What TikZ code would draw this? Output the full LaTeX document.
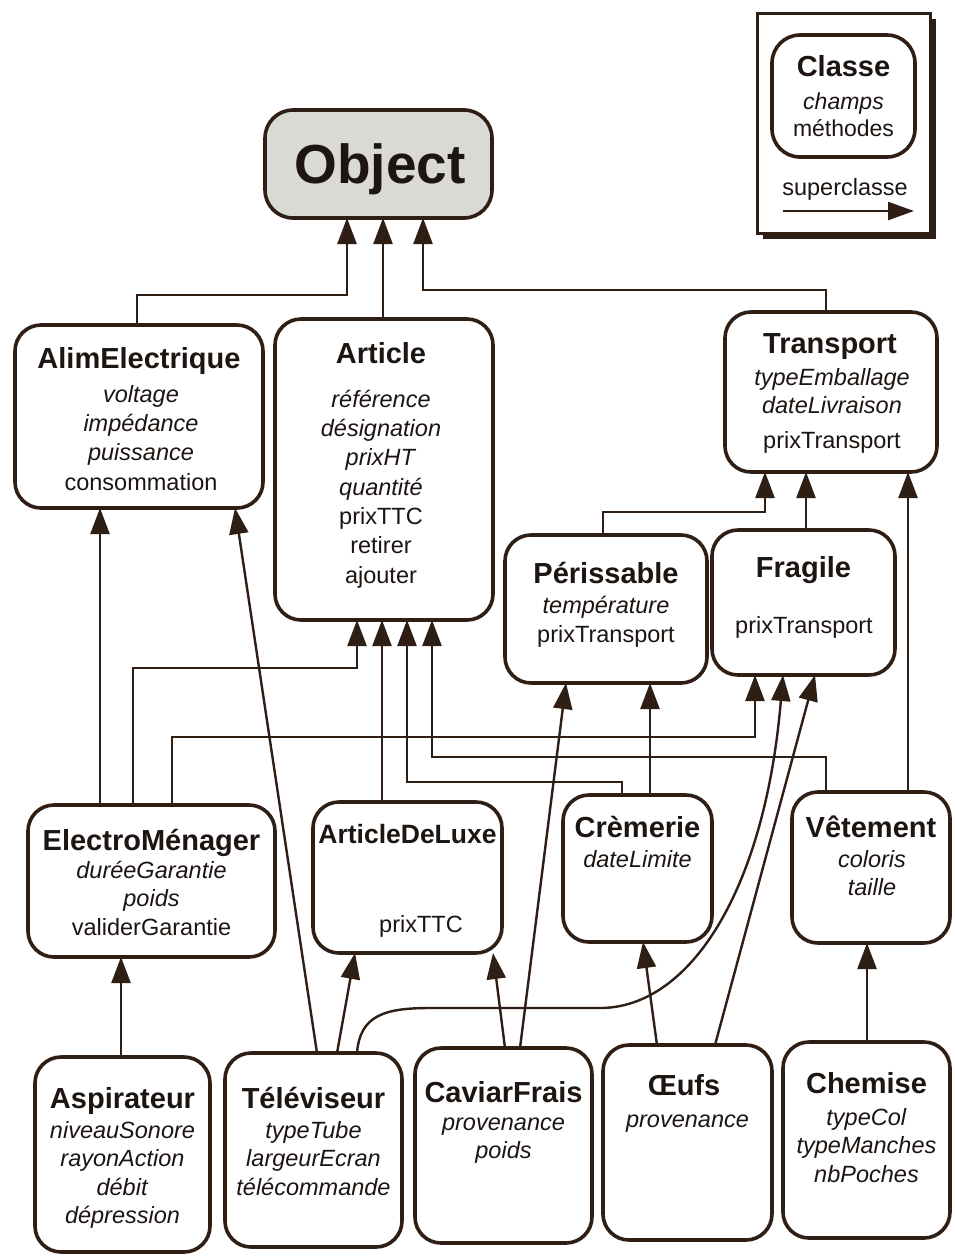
\documentclass[tikz,border=0pt]{standalone}
\usepackage{fontspec}
\setmainfont{Liberation Sans}
\usetikzlibrary{arrows.meta}
\definecolor{ink}{HTML}{2E1E14}
\definecolor{txt}{HTML}{1C1511}
\definecolor{objfill}{HTML}{D9D9D6}

\begin{document}
\begin{tikzpicture}[x=1pt,y=-1pt,
  cls/.style={draw=ink, line width=3.6pt, rounded corners=26pt, fill=white, inner sep=0pt, outer sep=0pt},
  ttl/.style={anchor=base, text=txt, inner sep=0pt, font={\fontsize{29}{33}\selectfont\bfseries}},
  % multi-line member lists are placed by the baseline of their last line
  mem/.style={anchor=base, align=center, text=txt, inner sep=0pt, font={\fontsize{23.5}{29.3}\selectfont}},
  inh/.style={draw=ink, line width=2.4pt, -{Triangle[length=26pt,width=19pt]}}
]
\fill[white] (0,0) rectangle (954,1259);
\useasboundingbox (0,0) rectangle (954,1259);

% ---------- legend ----------
\fill[ink] (763,19) rectangle (936,239);
\node[draw=ink, fill=white, line width=3pt, minimum width=173pt, minimum height=220pt, inner sep=0pt] (legframe) at (843.5,123) {};
\node[cls, minimum width=143pt, minimum height=122pt, rounded corners=28pt] (legcls) at (843.5,96) {};
\node[ttl] (legtitle) at (843.5,76) {Classe};
\node[mem, font={\fontsize{23}{27}\selectfont}] (legmem) at (843.5,136) {\textit{champs}\\méthodes};
\node[mem, font={\fontsize{23.5}{27}\selectfont}] (legsup) at (845,195) {superclasse};
\coordinate (legA) at (783,211);
\coordinate (legB) at (914,211);
\draw[inh, -{Triangle[length=26pt,width=18pt]}] (legA) -- (legB);

% ---------- classes ----------
\node[cls, fill=objfill, minimum width=227pt, minimum height=108pt, rounded corners=28pt] (obj) at (378.5,164) {};
\node[anchor=base, text=txt, inner sep=0pt, font={\fontsize{55}{60}\selectfont\bfseries}] (objtitle) at (380,183) {Object};

\node[cls, minimum width=248pt, minimum height=183pt] (alim) at (139,416.5) {};
\node[ttl] (alimtitle) at (139,368) {AlimElectrique};
\node[mem] (alimmem) at (141,490) {\textit{voltage}\\\textit{impédance}\\\textit{puissance}\\consommation};

\node[cls, minimum width=218pt, minimum height=301pt] (art) at (384,469.5) {};
\node[ttl] (arttitle) at (381,363) {Article};
\node[mem] (artmem) at (381,583) {\textit{référence}\\\textit{désignation}\\\textit{prixHT}\\\textit{quantité}\\prixTTC\\retirer\\ajouter};

\node[cls, minimum width=212pt, minimum height=160pt] (trans) at (831,392) {};
\node[ttl] (transtitle) at (830,353) {Transport};
\node[mem, font={\fontsize{23.5}{28.5}\selectfont}] (transmem) at (832,413.5) {\textit{typeEmballage}\\\textit{dateLivraison}};
\node[mem] (transop) at (832,448) {prixTransport};

\node[cls, minimum width=202pt, minimum height=148pt] (peri) at (606,609) {};
\node[ttl] (perititle) at (606,583) {Périssable};
\node[mem, font={\fontsize{23.5}{29.5}\selectfont}] (perimem) at (606,642.5) {\textit{température}\\prixTransport};

\node[cls, minimum width=183pt, minimum height=145pt] (frag) at (803.5,602.5) {};
\node[ttl] (fragtitle) at (803.5,577) {Fragile};
\node[mem] (fragop) at (804,633) {prixTransport};

\node[cls, minimum width=247pt, minimum height=152pt] (elec) at (151.5,881) {};
\node[ttl] (electitle) at (151.5,850) {ElectroMénager};
\node[mem, font={\fontsize{23.5}{28.5}\selectfont}] (elecmem) at (151.5,935) {\textit{duréeGarantie}\\\textit{poids}\\validerGarantie};

\node[cls, minimum width=189pt, minimum height=151pt] (lux) at (407.5,877.5) {};
\node[ttl, font={\fontsize{26.5}{30}\selectfont\bfseries}] (luxtitle) at (407.5,843) {ArticleDeLuxe};
\node[mem] (luxop) at (421,932) {prixTTC};

\node[cls, minimum width=149pt, minimum height=147pt] (crem) at (637.5,868.5) {};
\node[ttl] (cremtitle) at (637.5,837) {Crèmerie};
\node[mem] (cremmem) at (637.5,867) {\textit{dateLimite}};

\node[cls, minimum width=158pt, minimum height=151pt] (vet) at (871,867.5) {};
\node[ttl] (vettitle) at (871,837) {Vêtement};
\node[mem, font={\fontsize{23.5}{28}\selectfont}] (vetmem) at (872,895) {\textit{coloris}\\\textit{taille}};

\node[cls, minimum width=175pt, minimum height=195pt] (asp) at (122.5,1154.5) {};
\node[ttl] (asptitle) at (122.5,1108) {Aspirateur};
\node[mem, font={\fontsize{23.5}{28.5}\selectfont}] (aspmem) at (122.5,1223.5) {\textit{niveauSonore}\\\textit{rayonAction}\\\textit{débit}\\\textit{dépression}};

\node[cls, minimum width=177pt, minimum height=194pt] (tv) at (313.5,1150) {};
\node[ttl] (tvtitle) at (313.5,1108) {Téléviseur};
\node[mem, font={\fontsize{23.5}{28.5}\selectfont}] (tvmem) at (313.5,1195) {\textit{typeTube}\\\textit{largeurEcran}\\\textit{télécommande}};

\node[cls, minimum width=177pt, minimum height=195pt] (cav) at (503.5,1145.5) {};
\node[ttl] (cavtitle) at (503.5,1102) {CaviarFrais};
\node[mem, font={\fontsize{23.5}{28}\selectfont}] (cavmem) at (503.5,1158) {\textit{provenance}\\\textit{poids}};

\node[cls, minimum width=169pt, minimum height=195pt] (oeuf) at (687.5,1142.5) {};
\node[ttl] (oeuftitle) at (684,1095) {Œufs};
\node[mem] (oeufmem) at (687.5,1127) {\textit{provenance}};

\node[cls, minimum width=167pt, minimum height=196pt] (chem) at (866.5,1140) {};
\node[ttl] (chemtitle) at (866.5,1093) {Chemise};
\node[mem, font={\fontsize{23.5}{28.5}\selectfont}] (chemmem) at (866.5,1182) {\textit{typeCol}\\\textit{typeManches}\\\textit{nbPoches}};

% ---------- inheritance links ----------
% towards Object
\draw[inh] ([xshift=-2]alim.north) -- ++(0,-30) -| ([xshift=-31.5]obj.south);
\draw[inh] ([xshift=-1]art.north) -- ([xshift=4.5]obj.south);
\draw[inh] ([xshift=-5]trans.north) -- ++(0,-22) -| ([xshift=44.5]obj.south);

% towards Transport
\draw[inh] ([xshift=-3]peri.north) -- ++(0,-23) -| ([xshift=-66]trans.south);
\draw[inh] ([xshift=2.5]frag.north) -- ([xshift=-25]trans.south);
\draw[inh] ([xshift=37]vet.north) -- ([xshift=77]trans.south);

% towards AlimElectrique
\draw[inh] ([xshift=-51.5]elec.north) -- ([xshift=-39]alim.south);
\draw[inh] ([xshift=3.5]tv.north) -- ([xshift=96]alim.south);

% towards Article
\draw[inh] ([xshift=-18.5]elec.north) -- ++(0,-137) -| ([xshift=-27]art.south);
\draw[inh] ([xshift=-25.5]lux.north) -- ([xshift=-2]art.south);
\draw[inh] ([xshift=-15.5]crem.north) -- ++(0,-13) -| ([xshift=23]art.south);
\draw[inh] ([xshift=-45]vet.north) -- ++(0,-35) -| ([xshift=48]art.south);

% towards Fragile
\draw[inh] ([xshift=20.5]elec.north) -- ++(0,-68) -| ([xshift=-48.5]frag.south);
\coordinate (tvbendA) at (430,1008);
\coordinate (tvbendB) at (600,1008);
\draw[inh] ([xshift=43.5]tv.north) .. controls (360,1015) and (385,1008) .. (tvbendA)
  -- (tvbendB) .. controls (690,1008) and (765,890) .. ([xshift=-20.5]frag.south);
\draw[inh] ([xshift=27.5]oeuf.north) -- ([xshift=11.5]frag.south);

% towards Périssable
\draw[inh] ([xshift=12.5]crem.north) -- ([xshift=44]peri.south);
\draw[inh] ([xshift=16.5]cav.north) -- ([xshift=-40]peri.south);

% towards ArticleDeLuxe, Crèmerie, ElectroMénager, Vêtement
\draw[inh] ([xshift=23.5]tv.north) -- ([xshift=-52.5]lux.south);
\draw[inh] ([xshift=1.5]cav.north) -- ([xshift=85.5]lux.south);
\draw[inh] ([xshift=-30.5]oeuf.north) -- ([xshift=5.5]crem.south);
\draw[inh] ([xshift=-1.5]asp.north) -- ([xshift=-30.5]elec.south);
\draw[inh] ([xshift=0.5]chem.north) -- ([xshift=-4]vet.south);
\end{tikzpicture}
\end{document}
